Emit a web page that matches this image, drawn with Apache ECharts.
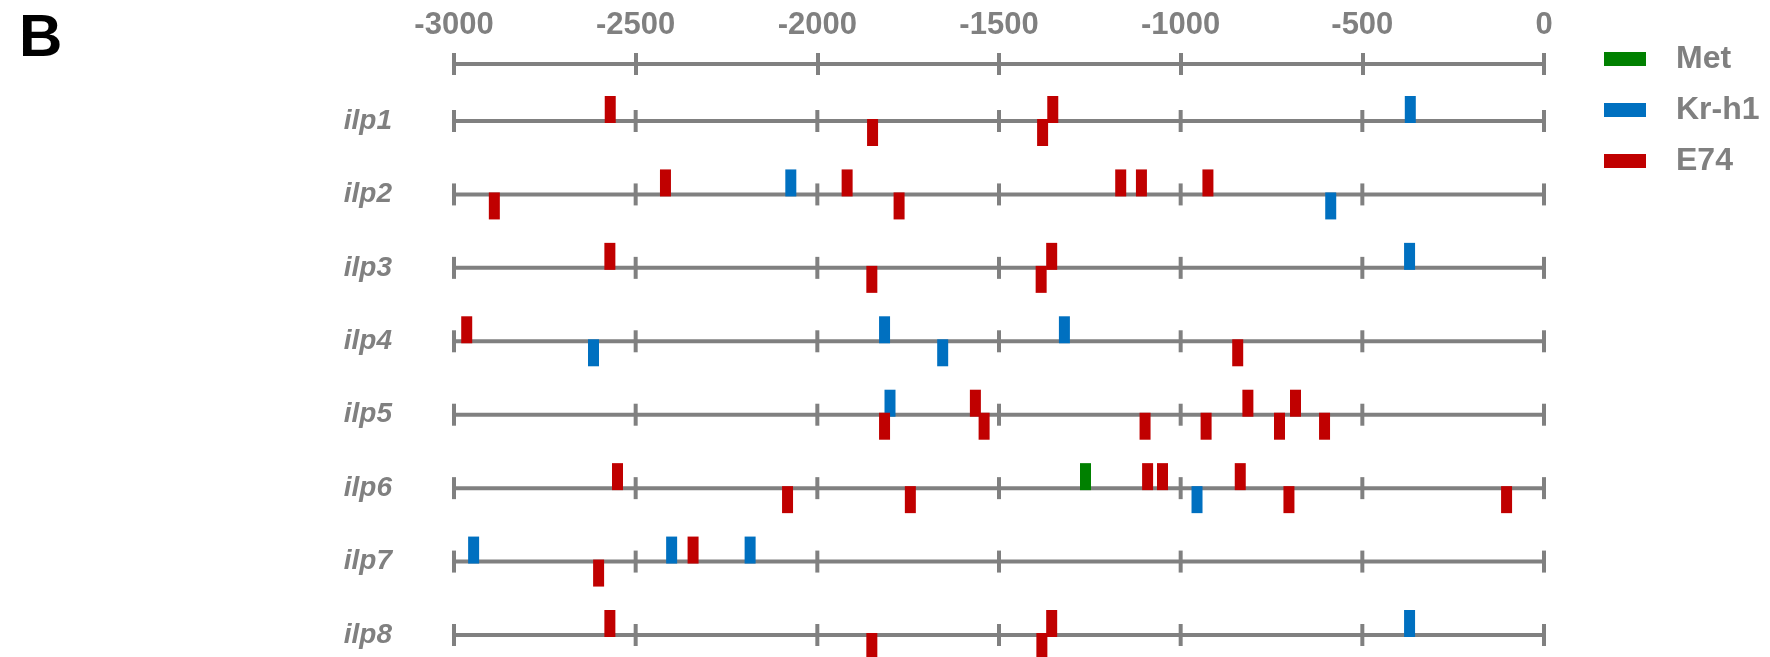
<!DOCTYPE html>
<html>
<head>
<meta charset="utf-8">
<script src="https://cdn.jsdelivr.net/npm/echarts@6/dist/echarts.min.js"></script>
<style>
html,body{margin:0;padding:0;background:#fff;}
#chart{width:1770px;height:657px;}
</style>
</head>
<body>
<div id="chart"></div>
<script>
// ---- data ----
const genes = ['ilp1', 'ilp2', 'ilp3', 'ilp4', 'ilp5', 'ilp6', 'ilp7', 'ilp8'];
const tickValues = [-3000, -2500, -2000, -1500, -1000, -500, 0];

// binding sites per gene (position relative to start), "up" = above the line, "down" = below
const metUp = [[], [], [], [], [], [-1262], [], []];
const metDown = [[], [], [], [], [], [], [], []];

const krh1Up = [[-368], [-2073], [-370], [-1815, -1320], [-1800], [], [-2946, -2401, -2185], [-370]];
const krh1Down = [[], [-587], [], [-2616, -1655], [], [-955], [], []];

const e74Up = [[-2570, -1352], [-2418, -1918, -1165, -1108, -925], [-2571, -1355], [-2965],
  [-1565, -815, -684], [-2550, -1091, -1050, -836], [-2342], [-2571, -1355]];
const e74Down = [[-1848, -1380], [-2889, -1775], [-1850, -1384], [-843],
  [-1815, -1541, -1098, -930, -728, -604], [-2082, -1744, -702, -103], [-2602], [-1850, -1382]];

const seriesNames = ['Met', 'Kr-h1', 'E74'];
const seriesColors = ['#008000', '#0070C0', '#C00000'];
// ---- end data ----

function toItems(up, down) {
  const items = [];
  up.forEach((arr, gi) => arr.forEach(v => items.push([v, gi, 1])));
  down.forEach((arr, gi) => arr.forEach(v => items.push([v, gi, -1])));
  return items;
}

const GRAY = '#808080';
const FONT = '"Liberation Sans", Arial, sans-serif';
const LW = 4;

function renderRow(params, api) {
  const gi = api.value(0);
  const start = api.coord([tickValues[0], gi]);
  const end = api.coord([tickValues[tickValues.length - 1], gi]);
  const children = [{
    type: 'line',
    shape: { x1: start[0], y1: start[1], x2: end[0], y2: end[1] },
    style: { stroke: GRAY, lineWidth: LW }
  }];
  tickValues.forEach(t => {
    const p = api.coord([t, gi]);
    children.push({
      type: 'line',
      shape: { x1: p[0], y1: p[1] - 11, x2: p[0], y2: p[1] + 11 },
      style: { stroke: GRAY, lineWidth: LW }
    });
  });
  return { type: 'group', children: children };
}

function renderMark(params, api) {
  const p = api.coord([api.value(0), api.value(1)]);
  const side = api.value(2);
  const w = 11, h = 27;
  const y = side > 0 ? p[1] + 2 - h : p[1] - 2;
  return {
    type: 'rect',
    shape: { x: p[0] - w / 2, y: y, width: w, height: h },
    style: { fill: api.visual('color') }
  };
}

const markData = [toItems(metUp, metDown), toItems(krh1Up, krh1Down), toItems(e74Up, e74Down)];

const chart = echarts.init(document.getElementById('chart'), null, { renderer: 'canvas' });

const option = {
  backgroundColor: '#ffffff',
  animation: false,
  graphic: [{
    type: 'text',
    left: 19,
    top: 9,
    style: { text: 'B', fill: '#000', font: 'bold 60px ' + FONT }
  }],
  legend: {
    orient: 'vertical',
    left: 1599,
    top: 36,
    itemWidth: 42,
    itemHeight: 14,
    itemGap: 15,
    icon: 'rect',
    data: seriesNames,
    textStyle: { color: GRAY, fontSize: 32, fontWeight: 'bold', fontFamily: FONT, lineHeight: 36, padding: [0, 0, 0, 25] }
  },
  grid: { left: 454, width: 1090, top: 121, height: 514 },
  xAxis: [{
    type: 'value',
    position: 'top',
    offset: 57,
    min: -3000, max: 0, interval: 500,
    axisLine: { show: true, lineStyle: { color: GRAY, width: LW } },
    axisTick: { show: true, inside: false, length: 11, lineStyle: { color: GRAY, width: LW } },
    axisLabel: {
      show: true, margin: 23, color: GRAY, fontSize: 31, fontWeight: 'bold', fontFamily: FONT,
      formatter: v => String(v)
    },
    splitLine: { show: false }
  }, {
    type: 'value',
    position: 'top',
    offset: 57,
    min: -3000, max: 0, interval: 500,
    axisLine: { show: false },
    axisTick: { show: true, inside: true, length: 11, lineStyle: { color: GRAY, width: LW } },
    axisLabel: { show: false },
    splitLine: { show: false }
  }],
  yAxis: {
    type: 'category',
    data: genes,
    inverse: true,
    boundaryGap: false,
    axisLine: { show: false },
    axisTick: { show: false },
    splitLine: { show: false },
    axisLabel: { margin: 62, color: GRAY, fontSize: 28, fontWeight: 'bold', fontStyle: 'italic', fontFamily: FONT }
  },
  series: [{
    type: 'custom',
    name: 'rows',
    xAxisIndex: 0,
    yAxisIndex: 0,
    silent: true,
    z: 1,
    renderItem: renderRow,
    data: genes.map((g, i) => [i]),
    encode: { y: 0 }
  }].concat(seriesNames.map((name, si) => ({
    type: 'custom',
    name: name,
    xAxisIndex: 0,
    yAxisIndex: 0,
    z: 2,
    itemStyle: { color: seriesColors[si] },
    renderItem: renderMark,
    data: markData[si],
    encode: { x: 0, y: 1 }
  })))
};

chart.setOption(option);
</script>
</body>
</html>
